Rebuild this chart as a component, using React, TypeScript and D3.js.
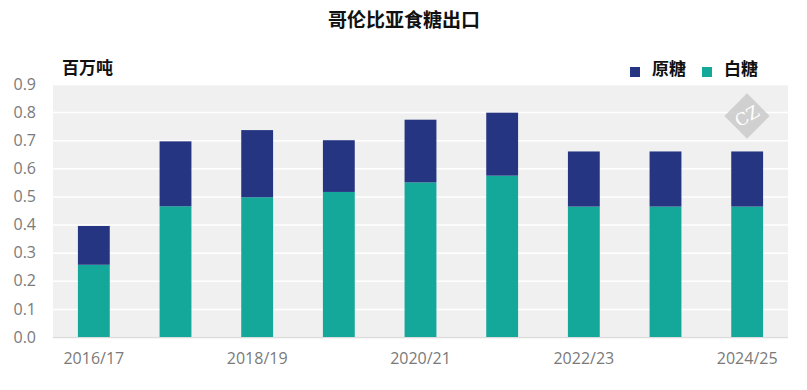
import { useEffect, useRef } from "react";
import * as d3 from "d3";

const seasons = [
  "2016/17",
  "2017/18",
  "2018/19",
  "2019/20",
  "2020/21",
  "2021/22",
  "2022/23",
  "2023/24",
  "2024/25",
];
const whiteSugar = [0.257, 0.465, 0.497, 0.516, 0.55, 0.574, 0.464, 0.464, 0.464];
const rawSugar = [0.138, 0.231, 0.239, 0.184, 0.223, 0.224, 0.196, 0.196, 0.196];
const yTicks = [0, 0.1, 0.2, 0.3, 0.4, 0.5, 0.6, 0.7, 0.8, 0.9];
const xTickLabels = ["2016/17", "2018/19", "2020/21", "2022/23", "2024/25"];

const seriesNames = ["原糖", "白糖"];
const colors: Record<string, string> = { 原糖: "#253582", 白糖: "#13a89a" };

const CJK = "'Noto Sans CJK SC', 'Noto Sans', sans-serif";
const LATIN = "'Open Sans', 'Noto Sans', sans-serif";

interface Row {
  season: string;
  白糖: number;
  原糖: number;
}

const App = () => {
  const svgRef = useRef<SVGSVGElement | null>(null);

  useEffect(() => {
    const width = 807;
    const height = 390;
    const svg = d3.select(svgRef.current);
    svg.selectAll("*").remove();

    const margin = { top: 84, right: 19, bottom: 53, left: 53 };
    const innerWidth = width - margin.left - margin.right;
    const innerHeight = height - margin.top - margin.bottom;

    const rows: Row[] = seasons.map((s, i) => ({
      season: s,
      白糖: whiteSugar[i],
      原糖: rawSugar[i],
    }));

    // title
    svg
      .append("text")
      .attr("x", 404)
      .attr("y", 27)
      .attr("text-anchor", "middle")
      .attr("font-family", CJK)
      .attr("font-weight", 700)
      .attr("font-size", 19)
      .attr("fill", "#111")
      .text("哥伦比亚食糖出口");

    svg
      .append("text")
      .attr("x", 62)
      .attr("y", 74)
      .attr("font-family", CJK)
      .attr("font-weight", 700)
      .attr("font-size", 17)
      .attr("fill", "#111")
      .text("百万吨");

    const g = svg
      .append("g")
      .attr("transform", `translate(${margin.left},${margin.top})`);

    const x = d3
      .scaleBand<string>()
      .domain(seasons)
      .range([0, innerWidth])
      .paddingInner(0.61)
      .paddingOuter(0.305);
    const y = d3.scaleLinear().domain([0, 0.9]).range([innerHeight, 0]);

    g.append("rect")
      .attr("width", innerWidth)
      .attr("height", innerHeight)
      .attr("fill", "#f0f0f0");

    const yAxis = d3
      .axisLeft(y)
      .tickValues(yTicks)
      .tickSize(-innerWidth)
      .tickPadding(17)
      .tickFormat((d) => d3.format(".1f")(d as number));

    const ya = g.append("g").call(yAxis);
    ya.select(".domain").remove();
    ya.selectAll(".tick line")
      .attr("stroke", "#ffffff")
      .attr("stroke-width", 1.5);
    ya.selectAll(".tick text")
      .attr("fill", "#7a7a7a")
      .attr("font-size", 16)
      .attr("font-family", LATIN);

    g.append("line")
      .attr("x1", 0)
      .attr("x2", innerWidth)
      .attr("y1", innerHeight + 0.5)
      .attr("y2", innerHeight + 0.5)
      .attr("stroke", "#dcdcdc")
      .attr("stroke-width", 1.5);

    const stack = d3.stack<Row>().keys(["白糖", "原糖"]);
    const layers = stack(rows);

    g.selectAll("g.layer")
      .data(layers)
      .join("g")
      .attr("class", "layer")
      .attr("fill", (d) => colors[d.key])
      .selectAll("rect")
      .data((d) => d)
      .join("rect")
      .attr("x", (d) => x(d.data.season) ?? 0)
      .attr("width", x.bandwidth())
      .attr("y", (d) => y(d[1]))
      .attr("height", (d) => y(d[0]) - y(d[1]));

    const xAxis = d3
      .axisBottom(x)
      .tickValues(xTickLabels)
      .tickSize(0)
      .tickPadding(16);
    const xa = g
      .append("g")
      .attr("transform", `translate(0,${innerHeight})`)
      .call(xAxis);
    xa.select(".domain").remove();
    xa.selectAll(".tick text")
      .attr("fill", "#7a7a7a")
      .attr("font-size", 16)
      .attr("font-family", LATIN);

    // legend
    const legendX = [630, 702];
    seriesNames.forEach((name, i) => {
      svg
        .append("rect")
        .attr("x", legendX[i])
        .attr("y", 67)
        .attr("width", 10)
        .attr("height", 10)
        .attr("fill", colors[name]);
      svg
        .append("text")
        .attr("x", legendX[i] + 22)
        .attr("y", 75)
        .attr("font-family", CJK)
        .attr("font-weight", 700)
        .attr("font-size", 17)
        .attr("fill", "#111")
        .text(name);
    });

    // watermark
    const wm = svg.append("g").attr("transform", "translate(747,116)");
    wm.append("rect")
      .attr("x", -16)
      .attr("y", -16)
      .attr("width", 32)
      .attr("height", 32)
      .attr("transform", "rotate(45)")
      .attr("fill", "#c8c8c8")
      .attr("opacity", 0.8);
    wm.append("text")
      .attr("text-anchor", "middle")
      .attr("y", 6)
      .attr("font-family", "'DejaVu Serif', serif")
      .attr("font-size", 17)
      .attr("fill", "#ffffff")
      .attr("transform", "rotate(-30)")
      .text("CZ");
  }, []);

  return (
    <svg
      ref={svgRef}
      role="img"
      aria-label="哥伦比亚食糖出口"
      width={807}
      height={390}
      style={{ position: "absolute", left: 0, top: 0, background: "#fff" }}
    />
  );
};

export default App;
